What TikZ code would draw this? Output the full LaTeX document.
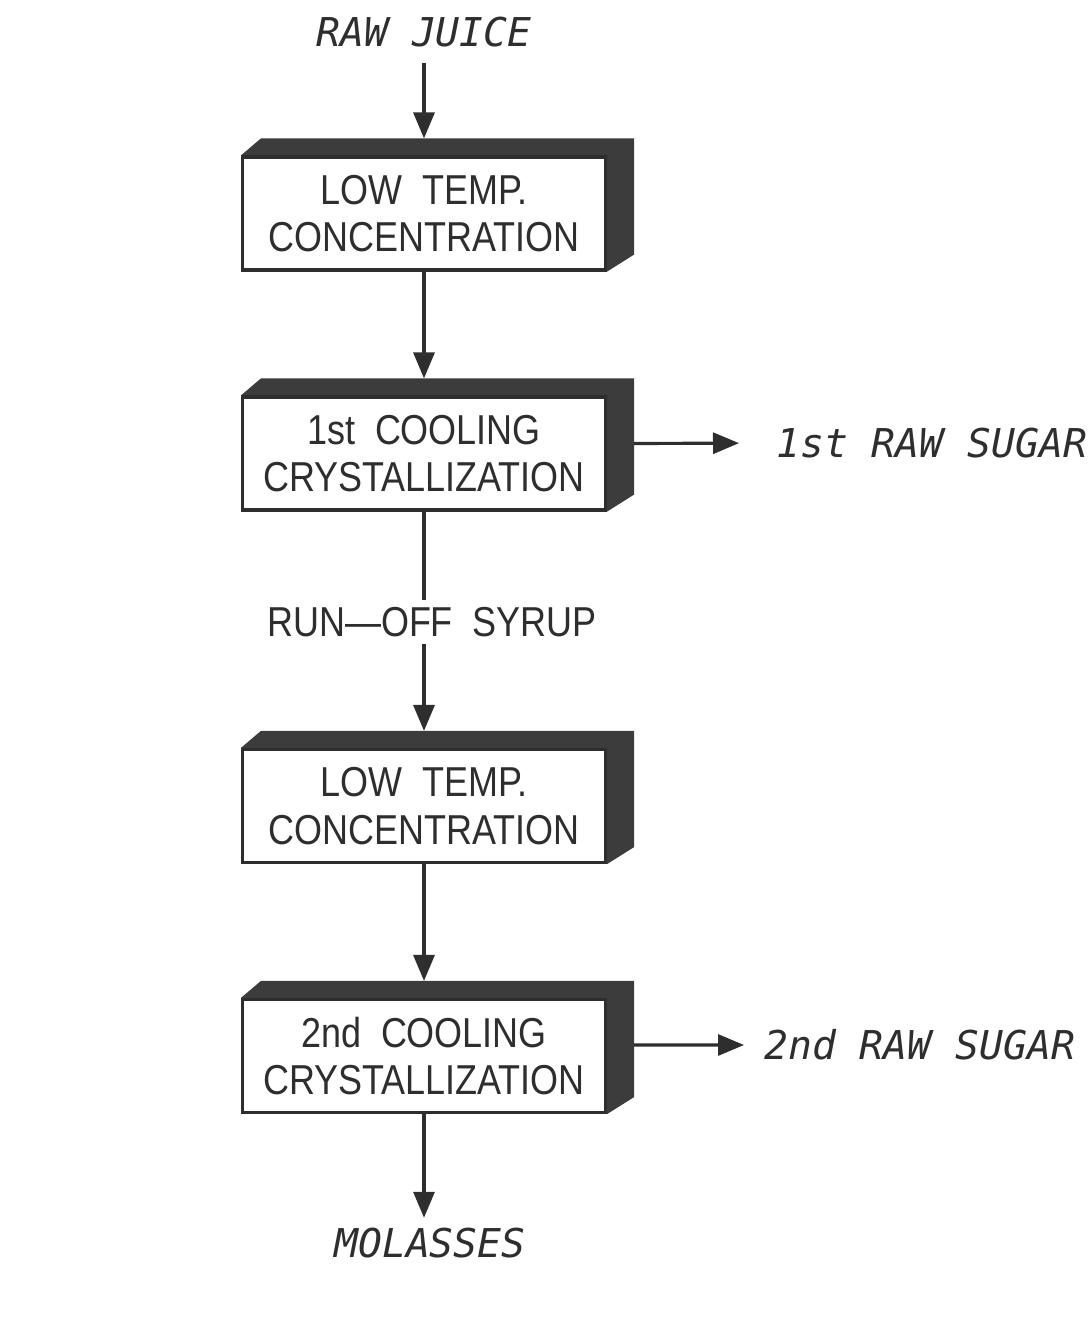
\documentclass[tikz,border=0pt]{standalone}
\usepackage{fontspec}
\setmainfont{Liberation Sans}
\newfontfamily\boxfont[FakeStretch=0.86, WordSpace=2]{Liberation Sans}
\newfontfamily\flowfont{DejaVu Sans Mono}
\usetikzlibrary{positioning,backgrounds,arrows.meta,calc}
\definecolor{ink}{HTML}{2E2E2E}
\definecolor{face}{HTML}{3C3C3C}

\begin{document}
\begin{tikzpicture}[
  unit/.style={rectangle, draw=ink, line width=0.9pt, fill=white, align=center, text=ink,
    minimum width=3.63cm, minimum height=1.13cm, inner sep=0pt,
    font=\boxfont\fontsize{11.9}{13.6}\selectfont},
  flow/.style={-{Triangle[length=2.6mm, width=2.1mm]}, line width=0.9pt, draw=ink},
  stream/.style={font=\flowfont\itshape\fontsize{11.3}{13}\selectfont, text=ink, inner sep=1pt},
]
\useasboundingbox (0,0) rectangle (10.9,-13.36);

% === PROCESS UNITS ===
\node[unit] (conc1) at (4.24, -2.135) {LOW TEMP.\\CONCENTRATION};
\node[unit] (cryst1) at (4.24, -4.535) {1st COOLING\\CRYSTALLIZATION};
\node[unit] (conc2) at (4.24, -8.06) {LOW TEMP.\\CONCENTRATION};
\node[unit] (cryst2) at (4.24, -10.56) {2nd COOLING\\CRYSTALLIZATION};

% dark top and right faces
\begin{scope}[on background layer]
\foreach \u in {conc1,cryst1,conc2,cryst2}
  \fill[face] (\u.north west) -- ++(0.2,0.17) -- ($(\u.north east)+(0.27,0.17)$)
    -- ($(\u.south east)+(0.27,0.17)$) -- (\u.south east) -- cycle;
\end{scope}

% === STREAMS ===
\node[stream] (juice) at (4.24, -0.32) {RAW JUICE};
\node[stream, anchor=west] (sugar1) at (7.72, -4.43) {1st RAW SUGAR};
\node[stream, anchor=west] (sugar2) at (7.6, -10.45) {2nd RAW SUGAR};
\node[stream] (molasses) at (4.3, -12.43) {MOLASSES};
\node[font=\boxfont\fontsize{11.9}{13.6}\selectfont, text=ink, fill=white, inner sep=2pt] (syrup) at (4.32, -6.22) {RUN—OFF SYRUP};

\draw[flow] (juice.south) ++(0,-0.12) -- ($(conc1.north)+(0,0.17)$);
\draw[flow] (conc1.south) -- ($(cryst1.north)+(0,0.17)$);
\begin{scope}[on background layer]
\draw[flow] (cryst1.south) -- ($(conc2.north)+(0,0.17)$);
\end{scope}
\draw[flow] (conc2.south) -- ($(cryst2.north)+(0,0.17)$);
\draw[flow, shorten >=0.6mm] (cryst2.south) -- (molasses.north -| cryst2.south);
\draw[flow, shorten >=3.3mm] ($(cryst1.east)+(0.27,0.1)$) -- (sugar1.west);
\draw[flow, shorten >=1.6mm] ($(cryst2.east)+(0.27,0.11)$) -- (sugar2.west);
\end{tikzpicture}
\end{document}
